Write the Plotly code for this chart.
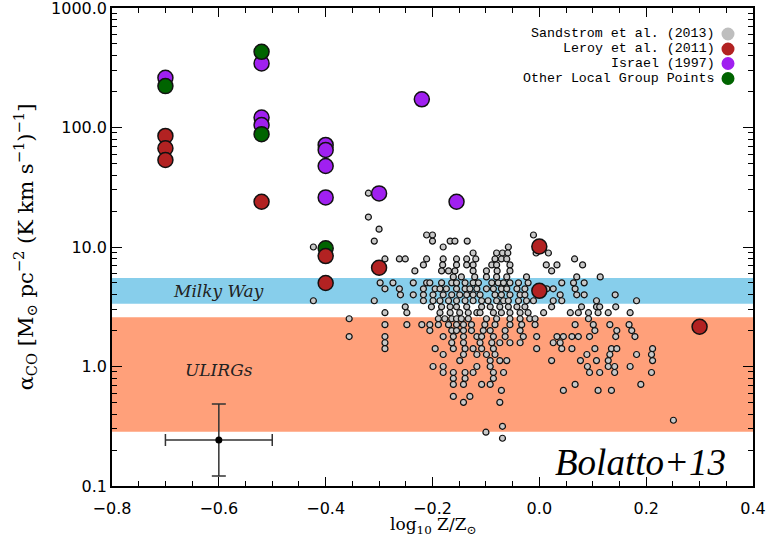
import math
import plotly.graph_objects as go

# ---------------- data ----------------
# Sandstrom et al. (2013): rows of (alpha_CO, [log10 Z/Zsun, ...])
sand_rows = [
    (28.2, [-0.320]),
    (17.8, [-0.320]),
    (14.1, [-0.300]),
    (12.6, [-0.211, -0.200, -0.011]),
    (11.2, [-0.309, -0.200, -0.167, -0.158, -0.135]),
    (10.0, [-0.423, -0.180, -0.058]),
    (8.91, [-0.124, -0.080, -0.069, -0.059, -0.006, 0.017]),
    (7.94, [-0.289, -0.262, -0.251, -0.211, -0.180, -0.155, -0.136, -0.119, -0.083, -0.071, -0.061, 0.066]),
    (7.08, [-0.217, -0.181, -0.155, -0.136, -0.124, -0.089, -0.080, -0.055, 0.013, 0.033, 0.081]),
    (6.31, [-0.233, -0.183, -0.170, -0.158, -0.124, -0.099, -0.079, -0.055, 0.023]),
    (5.62, [-0.161, -0.146, -0.121, -0.099, -0.080, -0.061, -0.024, 0.070, 0.114]),
    (5.01, [-0.298, -0.274, -0.236, -0.211, -0.205, -0.183, -0.164, -0.155, -0.139, -0.124, -0.114, -0.089,
            -0.077, -0.067, -0.055, -0.039, -0.021, 0.042, 0.064, 0.084]),
    (4.47, [-0.289, -0.262, -0.217, -0.195, -0.186, -0.174, -0.155, -0.139, -0.130, -0.117, -0.099, -0.086,
            -0.071, -0.061, -0.042, -0.027, 0.014, 0.026, 0.067]),
    (3.98, [-0.260, -0.236, -0.217, -0.199, -0.180, -0.164, -0.149, -0.136, -0.124, -0.111, -0.083, -0.071,
            -0.055, -0.036, -0.027, 0.039, 0.070, 0.084, 0.142]),
    (3.55, [-0.423, -0.309, -0.217, -0.199, -0.186, -0.170, -0.155, -0.139, -0.124, -0.108, -0.096, -0.080,
            -0.067, -0.058, -0.039, -0.024, -0.011, 0.026, 0.042, 0.107, 0.182]),
    (3.16, [-0.251, -0.202, -0.183, -0.167, -0.155, -0.136, -0.108, -0.092, -0.074, -0.058, -0.042, -0.027,
            0.023, 0.079, 0.107, 0.113, 0.143]),
    (2.82, [-0.289, -0.248, -0.186, -0.167, -0.149, -0.133, -0.117, -0.111, -0.086, -0.071, -0.055, -0.036,
            -0.021, 0.008, 0.058, 0.073, 0.092, 0.110, 0.129, 0.170]),
    (2.51, [-0.356, -0.189, -0.177, -0.164, -0.155, -0.146, -0.133, -0.099, -0.080, -0.055, -0.036, -0.018,
            -0.008, 0.092]),
    (2.24, [-0.289, -0.248, -0.220, -0.205, -0.189, -0.170, -0.155, -0.142, -0.127, -0.102, -0.083, -0.055,
            -0.033, -0.008, 0.067, 0.101, 0.132, 0.168]),
    (2.00, [-0.205, -0.164, -0.155, -0.142, -0.127, -0.105, -0.092, -0.064, -0.036, 0.104, 0.145, 0.173]),
    (1.78, [-0.356, -0.289, -0.180, -0.161, -0.142, -0.117, -0.108, -0.086, -0.064, -0.030, -0.005, 0.033,
            0.045, 0.061, 0.073, 0.094, 0.143, 0.179]),
    (1.58, [-0.289, -0.164, -0.142, -0.111, -0.089, -0.074, -0.055, -0.036, 0.026, 0.039]),
    (1.41, [-0.289, -0.195, -0.161, -0.139, -0.124, -0.108, -0.086, -0.005, 0.042, 0.061, 0.104, 0.135,
            0.145, 0.212]),
    (1.26, [-0.180, -0.142, -0.117, -0.099, -0.083, 0.089, 0.132, 0.182, 0.210]),
    (1.12, [-0.149, -0.092, -0.074, -0.061, 0.023, 0.077, 0.107, 0.129, 0.212]),
    (1.00, [-0.199, -0.180, -0.117, -0.092, 0.090, 0.129, 0.141, 0.170]),
    (0.891, [-0.180, -0.161, -0.139, -0.124, -0.086, -0.067, 0.094, 0.113, 0.141, 0.210]),
    (0.794, [-0.161, -0.139, -0.086]),
    (0.708, [-0.161, -0.142, -0.108, -0.092, 0.067, 0.190]),
    (0.631, [-0.071, 0.045, 0.110, 0.135]),
    (0.562, [-0.161, -0.130]),
    (0.501, [-0.142, -0.074]),
    (0.355, [0.251]),
    (0.316, [-0.069]),
    (0.282, [-0.100]),
    (0.251, [-0.069]),
]
sand_z = [z for a, zs in sand_rows for z in zs]
sand_alpha = [a for a, zs in sand_rows for _ in zs]

leroy_z = [-0.70, -0.70, -0.70, -0.52, -0.40, -0.40, -0.30, 0.00, 0.00, 0.30]
leroy_alpha = [85.0, 67.0, 53.5, 23.9, 8.4, 5.0, 6.7, 10.1, 4.3, 2.15]

israel_z = [-0.70, -0.52, -0.52, -0.52, -0.40, -0.40, -0.40, -0.40, -0.30, -0.22, -0.155]
israel_alpha = [261.0, 344.0, 121.0, 105.0, 71.5, 64.9, 47.6, 26.0, 28.1, 172.0, 23.9]

other_z = [-0.70, -0.52, -0.52, -0.40]
other_alpha = [222.0, 430.0, 88.0, 9.75]

# typical uncertainty point
err_z, err_alpha = -0.60, 0.243
err_dz = 0.1
err_up, err_down = 0.242, 0.122

# reference bands
mw_lo, mw_hi = 3.35, 5.5
ulirg_lo, ulirg_hi = 0.285, 2.58
band_x = [-0.8, 0.4]

legend_labels = ["Sandstrom et al. (2013)", "Leroy et al. (2011)", "Israel (1997)", "Other Local Group Points"]
legend_colors = ["#BEBEBE", "#B22222", "#A020F0", "#006400"]

y_tickvals = [0.1, 1, 10, 100, 1000]
y_ticktext = ["0.1", "1.0", "10.0", "100.0", "1000.0"]

# ---------------- figure ----------------
fig = go.Figure()


def band(lo, hi, color):
    fig.add_trace(go.Scatter(
        x=[band_x[0], band_x[1], band_x[1], band_x[0], band_x[0]],
        y=[lo, lo, hi, hi, lo], mode="lines", fill="toself",
        fillcolor=color, line=dict(width=0, color=color),
        hoverinfo="skip", showlegend=False))


band(mw_lo, mw_hi, "#87CEEB")
band(ulirg_lo, ulirg_hi, "#FFA07A")

fig.add_trace(go.Scatter(
    x=sand_z, y=sand_alpha, mode="markers", showlegend=False,
    marker=dict(size=6, color="#C8C8C8", line=dict(color="#111111", width=1.2))))

big = dict(size=15, line=dict(color="#111111", width=1.5))
fig.add_trace(go.Scatter(x=israel_z, y=israel_alpha, mode="markers", showlegend=False,
                         marker=dict(color="#A020F0", **big)))
fig.add_trace(go.Scatter(x=other_z, y=other_alpha, mode="markers", showlegend=False,
                         marker=dict(color="#006400", **big)))
fig.add_trace(go.Scatter(x=leroy_z, y=leroy_alpha, mode="markers", showlegend=False,
                         marker=dict(color="#B22222", **big)))

fig.add_trace(go.Scatter(
    x=[err_z], y=[err_alpha], mode="markers", showlegend=False,
    marker=dict(size=7, color="black"),
    error_x=dict(type="constant", value=err_dz, color="#333333", thickness=1.5, width=6),
    error_y=dict(type="data", array=[err_up], arrayminus=[err_down], color="#333333",
                 thickness=1.5, width=7)))

# legend (text on left, dot on right)
L, R, T, B = 112, 753, 8, 486
W, H = R - L, B - T
rows_py = [34, 49, 63.5, 78.5]
for lab, col, py in zip(legend_labels, legend_colors, rows_py):
    yp = (B - py) / H
    fig.add_annotation(x=(717 - L) / W, y=yp, xref="paper", yref="paper", text=lab,
                       showarrow=False, xanchor="right", yanchor="middle",
                       font=dict(family="Liberation Mono", size=13.3, color="black"))
    fig.add_shape(type="circle", xref="paper", yref="paper", xsizemode="pixel", ysizemode="pixel",
                  xanchor=(728 - L) / W, yanchor=yp, x0=-6.5, x1=6.5, y0=-6.5, y1=6.5,
                  fillcolor=col, line=dict(width=0))

fig.add_annotation(x=-0.6, y=math.log10(math.sqrt(mw_lo * mw_hi)), text="Milky Way", showarrow=False,
                   xanchor="center", yanchor="middle",
                   font=dict(family="DejaVu Serif", size=17, color="#222222", style="italic"))
fig.add_annotation(x=-0.6, y=math.log10(0.935), text="ULIRGs", showarrow=False,
                   xanchor="center", yanchor="middle",
                   font=dict(family="DejaVu Serif", size=17, color="#222222", style="italic"))
fig.add_annotation(x=(640 - L) / W, y=(B - 462) / H, xref="paper", yref="paper", text="Bolatto+13",
                   showarrow=False, xanchor="center", yanchor="middle",
                   font=dict(family="Liberation Serif", size=37, color="black", style="italic"))

# x-axis title placed as a paper annotation below the tick labels
fig.add_annotation(x=0.5, y=(B - 525) / H, xref="paper", yref="paper",
                   text="log<sub>10</sub> Z/Z<sub>⊙</sub>", showarrow=False,
                   xanchor="center", yanchor="middle",
                   font=dict(family="DejaVu Serif", size=17, color="black"))

minor_y = [m * 10 ** k for k in range(-1, 3) for m in range(2, 10)]

axis_common = dict(showline=True, linecolor="black", linewidth=1.5, mirror="ticks", ticks="inside",
                   tickcolor="black", tickwidth=1.3, showgrid=False, zeroline=False, automargin=False,
                   ticklabeloverflow="allow",
                   tickfont=dict(family="DejaVu Sans", size=16, color="black"))

fig.update_layout(
    width=778, height=536, margin=dict(l=L, r=778 - R, t=T, b=536 - B, autoexpand=False),
    paper_bgcolor="white", plot_bgcolor="white", showlegend=False,
    xaxis=dict(range=[-0.8, 0.4], dtick=0.2, tick0=-0.8, tickformat=".1f", ticklen=9,
               ticklabelstandoff=7,
               minor=dict(dtick=0.05, tick0=-0.8, ticks="inside", ticklen=5, tickcolor="black",
                          showgrid=False),
               **axis_common),
    yaxis=dict(type="log", range=[-1, 3], tickvals=y_tickvals, ticktext=y_ticktext, ticklen=10,
               minor=dict(tickvals=minor_y, ticks="inside", ticklen=5, tickcolor="black", showgrid=False),
               title=dict(text="α<sub>CO</sub> [M<sub>⊙</sub> pc<sup>−2</sup> (K km s<sup>−1</sup>)<sup>−1</sup>]",
                          standoff=12, font=dict(family="DejaVu Serif", size=21, color="black")),
               **axis_common),
)

fig.write_html("out.html", config={"displayModeBar": False},
               post_script="document.body.style.margin='0px';")
